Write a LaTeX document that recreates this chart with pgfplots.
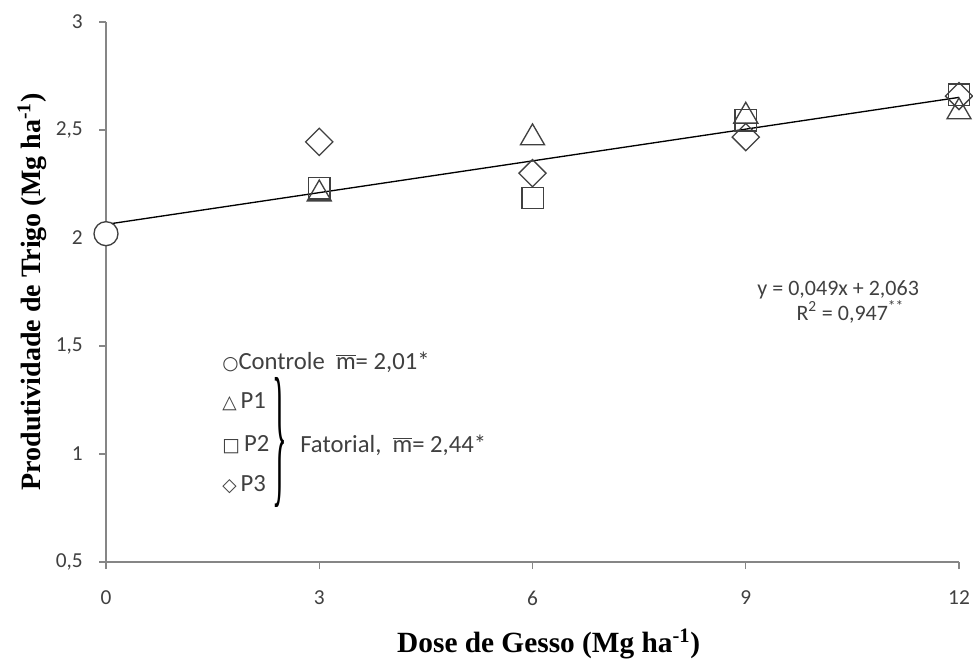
\documentclass[border=0pt]{standalone}
\usepackage{fontspec}
\usepackage{graphicx}
\setmainfont{Carlito}
\newfontfamily\serifb{Liberation Serif}
\newfontfamily\symf{DejaVu Sans}
\usepackage{pgfplots}
\pgfplotsset{compat=1.18}
\definecolor{axgray}{HTML}{868686}
\definecolor{mk}{HTML}{404040}
\definecolor{txt}{HTML}{404040}
\newcommand{\mbar}{$\overline{\hbox{m}}$}
\newcommand{\sym}[1]{{\symf\fontsize{14}{14}\selectfont #1}}
\begin{document}
\begin{tikzpicture}
\begin{axis}[
  scale only axis, width=639.75pt, height=405pt,
  xmin=0, xmax=12, ymin=0.5, ymax=3,
  axis lines*=left,
  axis line style={axgray, line width=1pt},
  tick style={axgray, line width=1pt},
  tick align=outside, major tick length=5.25pt,
  xtick={0,3,6,9,12}, ytick={0.5,1,1.5,2,2.5,3},
  xticklabels={{0},{3},{6},{9},{12}},
  yticklabels={{0,5},{1},{1,5},{2},{2,5},{3}},
  ticklabel style={font=\fontsize{16}{19}\selectfont, text=txt},
  yticklabel style={anchor=east, inner sep=0pt, xshift=-12pt},
  xticklabel style={anchor=north, inner sep=0pt, yshift=-16pt},
  clip=false, axis on top,
  xlabel={\serifb\bfseries Dose de Gesso (Mg ha\textsuperscript{-1})},
  ylabel={\serifb\bfseries Produtividade de Trigo (Mg ha\textsuperscript{-1})},
  xlabel style={at={(axis description cs:0.519,-0.152)}, anchor=center, font=\fontsize{22}{25}\selectfont},
  ylabel style={at={(axis description cs:-0.0868,0.5)}, anchor=center, font=\fontsize{21}{24}\selectfont},
]
\addplot[black, line width=1pt, forget plot] coordinates {(0,2.063) (12,2.651)};
\addplot[only marks, mark=*, mark size=9pt, mark options={fill=white, draw=mk, line width=1pt}] coordinates {(0,2.02)};
\addplot[only marks, mark=triangle, mark size=10.4pt, mark options={draw=mk, line width=1pt, yshift=-2.6pt}] coordinates {(3,2.22) (6,2.48) (9,2.58) (12,2.60)};
\addplot[only marks, mark=square, mark size=8pt, mark options={draw=mk, line width=1pt}] coordinates {(3,2.23) (6,2.185) (9,2.545) (12,2.663)};
\addplot[only marks, mark=square, mark size=7.2pt, mark options={draw=mk, line width=1pt, rotate=45}] coordinates {(3,2.445) (6,2.30) (9,2.467) (12,2.657)};

\begin{scope}[every node/.style={inner sep=0pt, text=txt, font=\fontsize{18.5}{21}\selectfont}]
\node[anchor=west] at (axis cs:1.632,1.426) {\sym{○}Controle\ \ \mbar= 2,01*};
\node[anchor=west] at (axis cs:1.632,1.241) {\sym{△}\,P1};
\node[anchor=west] at (axis cs:1.632,1.042) {\sym{□}\,P2};
\node[anchor=west] at (axis cs:1.632,0.856) {\sym{◇}\,P3};
\node[text=black] at (axis cs:2.448,1.051) {\resizebox*{11pt}{97.5pt}{\serifb\}}};
\node[anchor=west] at (axis cs:2.729,1.042) {Fatorial,\ \ \mbar= 2,44*};
\node[font=\fontsize{16.5}{19}\selectfont] at (axis cs:10.30,1.759) {y = 0,049x + 2,063};
\node[font=\fontsize{16.5}{19}\selectfont] at (axis cs:10.47,1.657) {R\textsuperscript{2} = 0,947\textsuperscript{**}};
\end{scope}

\coordinate (bbsw) at (axis description cs:-0.12427,-0.17963);
\coordinate (bbne) at (axis description cs:1.01641,1.04074);
\end{axis}
\pgfresetboundingbox
\useasboundingbox (bbsw) rectangle (bbne);
\end{tikzpicture}
\end{document}
